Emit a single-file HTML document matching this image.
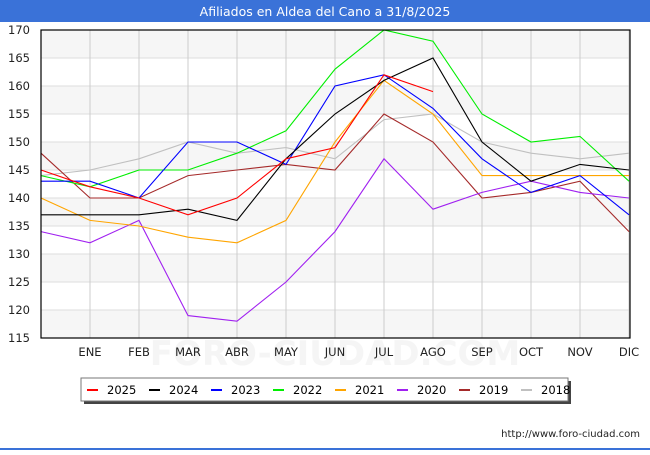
<!DOCTYPE html>
<html><head><meta charset="utf-8"><style>
body{margin:0;width:650px;height:450px;overflow:hidden;background:#fff;font-family:"Liberation Sans","DejaVu Sans",sans-serif}
</style></head><body>
<svg id="chart" width="650" height="450" xmlns="http://www.w3.org/2000/svg" font-family="DejaVu Sans, Liberation Sans, sans-serif">
<rect x="0" y="0" width="650" height="22" fill="#3a72d8"/>
<text x="325" y="16" text-anchor="middle" fill="#fff" font-size="12.5">Afiliados en Aldea del Cano a 31/8/2025</text>
<g id="plot"></g>
<rect x="84" y="381" width="487" height="23" fill="#444"/>
<rect x="81" y="378" width="487" height="23" fill="#fff" stroke="#777"/>
<g id="legend"></g>
<text x="640" y="437" text-anchor="end" font-size="10" fill="#222">http://www.foro-ciudad.com</text>
<rect x="0" y="448" width="650" height="2" fill="#3a72d8"/>
</svg>
<script>
const categories = ["", "ENE","FEB","MAR","ABR","MAY","JUN","JUL","AGO","SEP","OCT","NOV","DIC"];
const yTicks = [115,120,125,130,135,140,145,150,155,160,165,170];
const seriesNames = ["2025","2024","2023","2022","2021","2020","2019","2018"];
const seriesColors = ["#ff0000","#000000","#0000ff","#00ee00","#ffa500","#a020f0","#a52a2a","#c0c0c0"];
const s2025 = [145,142,140,137,140,147,149,162,159];
const s2024 = [137,137,137,138,136,147,155,161,165,150,143,146,145];
const s2023 = [143,143,140,150,150,146,160,162,156,147,141,144,137];
const s2022 = [144,142,145,145,148,152,163,170,168,155,150,151,143];
const s2021 = [140,136,135,133,132,136,150,161,155,144,144,144,144];
const s2020 = [134,132,136,119,118,125,134,147,138,141,143,141,140];
const s2019 = [148,140,140,144,145,146,145,155,150,140,141,143,134];
const s2018 = [144,145,147,150,148,149,147,154,155,150,148,147,148];
const allSeries = [s2025,s2024,s2023,s2022,s2021,s2020,s2019,s2018];

const NS="http://www.w3.org/2000/svg";
const L=41,R=629,T=30,B=338,yMin=115,yMax=170;
const xs=i=>L+i*(R-L)/(categories.length-1);
const ys=v=>B-(v-yMin)*(B-T)/(yMax-yMin);
const plot=document.getElementById('plot');
function mk(tag,attrs,parent){const e=document.createElementNS(NS,tag);for(const k in attrs)e.setAttribute(k,attrs[k]);(parent||plot).appendChild(e);return e;}
for(let i=0;i<yTicks.length-1;i++){
  if((yTicks.length-2-i)%2===0){
    const b=mk('rect',{x:L,y:ys(yTicks[i+1]),width:R-L,height:ys(yTicks[i])-ys(yTicks[i+1]),fill:'#f6f6f6'});
    
    
  }
}
const wm=mk('text',{x:335,y:365,'text-anchor':'middle','font-size':'34',fill:'#f5f5f5','font-weight':'bold'});
wm.textContent='FORO-CIUDAD.COM';


yTicks.forEach(v=>{
  const g=mk('line',{x1:L,x2:R,y1:ys(v),y2:ys(v),stroke:'#dddddd'});
  
  
  const t=mk('text',{x:L-11,y:ys(v)+4,'text-anchor':'end','font-size':'11.5',fill:'#222'});
  t.textContent=v;
  
  
});
categories.forEach((c,i)=>{
  if(i===0)return;
  const g=mk('line',{x1:xs(i),x2:xs(i),y1:T,y2:B,stroke:'#cccccc'});
  
  
  const t=mk('text',{x:xs(i),y:356,'text-anchor':'middle','font-size':'11.5',fill:'#222'});
  t.textContent=c;
  
  
});
for(let s=allSeries.length-1;s>=0;s--){
  const pts=allSeries[s].map((v,i)=>xs(i)+','+ys(v)).join(' ');
  const p=mk('polyline',{points:pts,fill:'none',stroke:seriesColors[s],'stroke-width':'1.1'});
  
  
}
const fr=mk('rect',{x:L,y:T,width:R-L+1,height:B-T,fill:'none',stroke:'#000','stroke-width':'1.2'});


const lg=document.getElementById('legend');
seriesNames.forEach((n,i)=>{
  const x=87+i*62;
  const m=mk('rect',{x:x,y:389,width:11,height:2,fill:seriesColors[i]},lg);
  
  
  const t=mk('text',{x:x+20,y:394,'font-size':'11.5',fill:'#000'},lg);
  t.textContent=n;
  
  
});
</script>
</body></html>
